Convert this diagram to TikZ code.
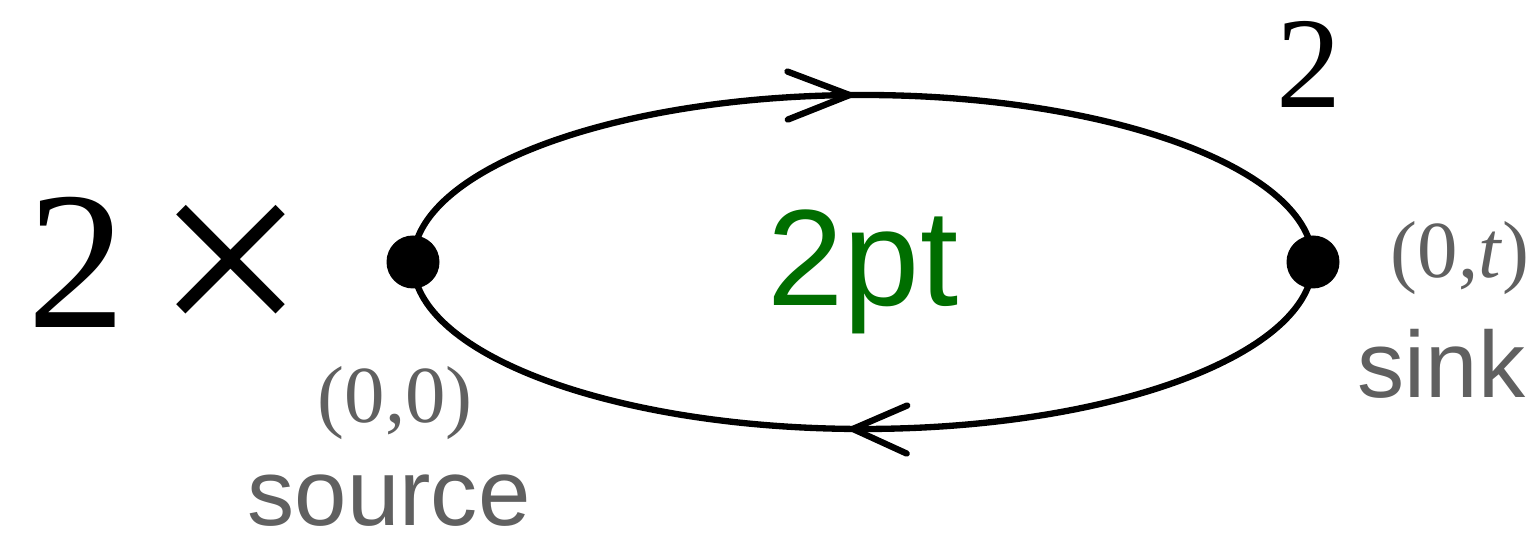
\documentclass[tikz,border=0pt]{standalone}
\usepackage{fontspec}
\setmainfont{Liberation Serif}
\setsansfont{Liberation Sans}
\newfontfamily\numfont{Liberation Serif}
\usetikzlibrary{arrows.meta,decorations.markings}
\definecolor{lblgray}{HTML}{606060}
\definecolor{ptgreen}{HTML}{006E00}
\tikzset{
  vertex/.style={circle, fill=black, inner sep=0pt, minimum size=0.53cm},
  prop/.style={line width=1.8pt},
  flowmark/.style 2 args={postaction={decorate}, decoration={markings,
      mark=at position #1 with {\arrow{Straight Barb[length=#2, width=4.8mm, line width=1.8pt, round]}}}},
  txt/.style={inner sep=0pt, anchor=base west},
  coordlbl/.style={txt, text=lblgray, font=\numfont\fontsize{23}{26}\selectfont},
  rolelbl/.style={txt, text=lblgray, font=\sffamily\fontsize{26.8}{30}\selectfont},
}
\begin{document}
\begin{tikzpicture}
\useasboundingbox (0,0) rectangle (15.36,5.41);

% prefactor
\node[txt, font=\numfont\fontsize{56}{60}\selectfont] (two) at (0.27,2.13) {2};
\node[inner sep=0pt, font=\numfont\fontsize{76}{80}\selectfont] (times) at (2.31,2.64) {×};

% source and sink vertices
\node[vertex] (src) at (4.13,2.79) {};
\node[vertex] (snk) at (13.13,2.79) {};

% the two propagators of the loop
\draw[prop, flowmark={0.49}{6.2mm}] (src.center) arc[start angle=180, end angle=0, x radius=4.5, y radius=1.67];
\draw[prop, flowmark={0.513}{5.4mm}] (snk.center) arc[start angle=0, end angle=-180, x radius=4.5, y radius=1.67];

% labels
\node[txt, text=ptgreen, font=\sffamily\fontsize{39}{43}\selectfont] (corr) at (7.67,2.35) {2pt};
\node[txt, font=\numfont\fontsize{37}{40}\selectfont] (power) at (12.76,4.33) {2};
\node[coordlbl] (snkpos) at (13.90,2.63) {(0,\textit{t})};
\node[rolelbl] (snkname) at (13.57,1.43) {sink};
\node[coordlbl] (srcpos) at (3.17,1.18) {(0,0)};
\node[rolelbl] (srcname) at (2.47,0.15) {source};
\end{tikzpicture}
\end{document}
